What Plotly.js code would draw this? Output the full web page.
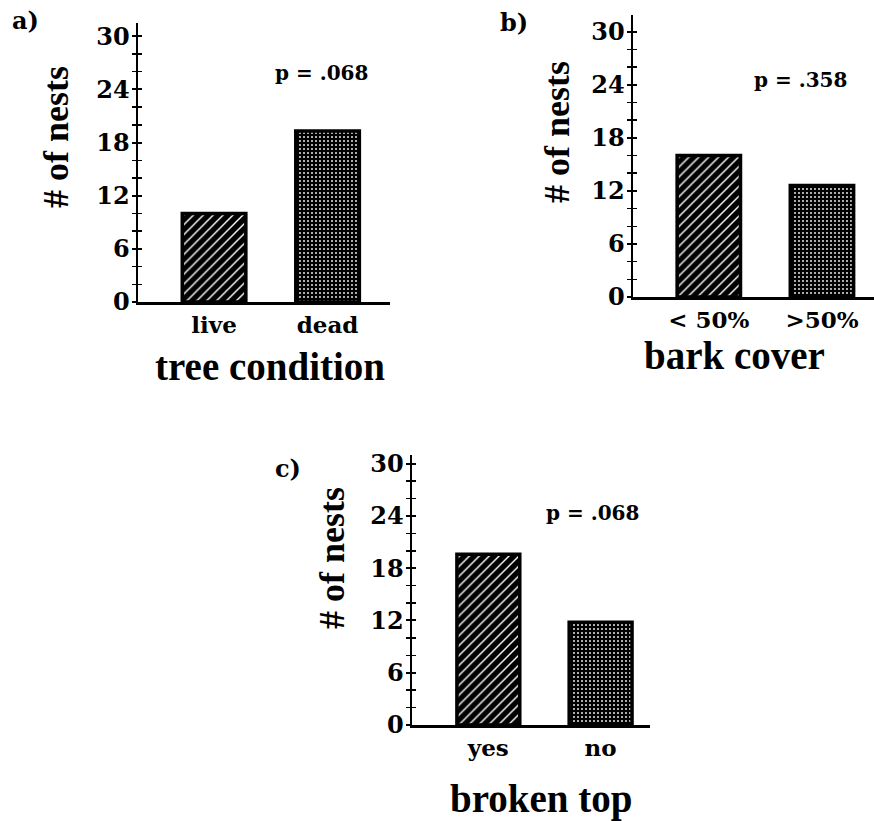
<!DOCTYPE html>
<html>
<head>
<meta charset="utf-8">
<script src="https://cdn.plot.ly/plotly-3.0.1.min.js"></script>
<style>html,body{margin:0;padding:0;background:#fff;}#chart{width:874px;height:821px;}</style>
</head>
<body>
<div id="chart"></div>
<script>
// ---- data ----
const catsA = ['live', 'dead'];
const valsA = [10, 19.3];
const catsB = ['< 50%', '>50%'];
const valsB = [16, 12.6];
const catsC = ['yes', 'no'];
const valsC = [19.6, 11.8];
const patterns = ['/', '.'];
const pValues = ['p = .068', 'p = .358', 'p = .068'];
const panelLabels = ['a)', 'b)', 'c)'];
const xTitles = ['tree condition', 'bark cover', 'broken top'];
const yTitle = '# of nests';
const yTicks = [0, 6, 12, 18, 24, 30];

const W = 874, H = 821;
const px = v => v / W;
const py = v => 1 - v / H;

function barTrace(cats, vals, xa, ya) {
  return {
    type: 'bar', x: cats, y: vals, xaxis: xa, yaxis: ya, width: 0.56,
    hoverinfo: 'skip',
    marker: {
      color: 'black',
      line: {color: 'black', width: 3.5},
      pattern: {
        shape: patterns,
        fillmode: 'replace',
        bgcolor: 'black',
        fgcolor: 'white',
        size: [7, 4],
        solidity: [0.2, 0.16]
      }
    }
  };
}

const traces = [
  barTrace(catsA, valsA, 'x', 'y'),
  barTrace(catsB, valsB, 'x2', 'y2'),
  barTrace(catsC, valsC, 'x3', 'y3'),
  {type: 'scatter', x: [null], y: [null], xaxis: 'x', yaxis: 'y4', hoverinfo: 'skip', showlegend: false},
  {type: 'scatter', x: [null], y: [null], xaxis: 'x2', yaxis: 'y5', hoverinfo: 'skip', showlegend: false},
  {type: 'scatter', x: [null], y: [null], xaxis: 'x3', yaxis: 'y6', hoverinfo: 'skip', showlegend: false}
];

const tickFontX = {family: 'DejaVu Serif', size: 23, color: 'black', weight: 'bold'};
const tickFontY = {family: 'DejaVu Serif', size: 24, color: 'black', weight: 'bold'};

function xAxis(domain, anchor, range) {
  return {
    domain: domain, anchor: anchor, range: range, type: 'category',
    showline: true, linecolor: 'black', linewidth: 2.5,
    ticks: '', showgrid: false, zeroline: false,
    tickfont: tickFontX, ticklabelstandoff: 1, fixedrange: true
  };
}
function yAxis(domain, anchor, top) {
  return {
    domain: domain, anchor: anchor, range: [0, top],
    tickvals: yTicks, ticktext: yTicks.map(String),
    ticks: 'outside', ticklen: 4, tickwidth: 2, tickcolor: 'black',
    minor: {dtick: 2, tick0: 0, ticks: 'outside', ticklen: 4, tickwidth: 1.5, tickcolor: 'black'},
    showline: true, linecolor: 'black', linewidth: 2.5,
    showgrid: false, zeroline: false, tickfont: tickFontY,
    ticklabelstandoff: -3, fixedrange: true
  };
}
function yOverlay(base, anchor, top) {
  return {
    overlaying: base, anchor: anchor, side: 'left', range: [0, top],
    tickvals: yTicks, ticks: 'inside', ticklen: 4, tickwidth: 2, tickcolor: 'black',
    minor: {dtick: 2, tick0: 0, ticks: 'inside', ticklen: 4, tickwidth: 1.5, tickcolor: 'black'},
    showticklabels: false, showline: false, showgrid: false, zeroline: false, fixedrange: true
  };
}

const topA = 31.5, topB = 31.9, topC = 31;

const annFont = (size, fam) => ({family: fam, size: size, color: 'black', weight: 'bold'});
const annotations = [];
function ann(text, x, y, font, angle) {
  annotations.push({text: text, x: px(x), y: py(y), xref: 'paper', yref: 'paper',
    xanchor: 'center', yanchor: 'middle', showarrow: false, font: font, textangle: angle || 0});
}
// panel labels
ann(panelLabels[0], 25, 20, annFont(24, 'DejaVu Serif'));
ann(panelLabels[1], 514, 22, annFont(24, 'DejaVu Serif'));
ann(panelLabels[2], 288, 468, annFont(24, 'DejaVu Serif'));
// p values
ann(pValues[0], 321, 73, annFont(20, 'DejaVu Serif'));
ann(pValues[1], 800, 80, annFont(20, 'DejaVu Serif'));
ann(pValues[2], 592, 513, annFont(20, 'DejaVu Serif'));
// y titles
ann(yTitle, 56, 137, annFont(36, 'Liberation Serif'), -90);
ann(yTitle, 557, 132, annFont(36, 'Liberation Serif'), -90);
ann(yTitle, 332, 558, annFont(36, 'Liberation Serif'), -90);
// x titles
ann(xTitles[0], 270, 366, annFont(39, 'Liberation Serif'));
ann(xTitles[1], 734, 355, annFont(39, 'Liberation Serif'));
ann(xTitles[2], 541, 799, annFont(39, 'Liberation Serif'));

const layout = {
  width: W, height: H,
  margin: {l: 0, r: 0, t: 0, b: 0, pad: 0},
  paper_bgcolor: 'white', plot_bgcolor: 'rgba(0,0,0,0)',
  showlegend: false, bargap: 0.4,
  xaxis: xAxis([px(138), px(390)], 'y', [-0.67, 1.55]),
  yaxis: yAxis([py(302), py(23)], 'x', topA),
  xaxis2: xAxis([px(633), 1], 'y2', [-0.67, 1.46]),
  yaxis2: yAxis([py(297), py(15)], 'x2', topB),
  xaxis3: xAxis([px(412), px(650)], 'y3', [-0.68, 1.44]),
  yaxis3: yAxis([py(725), py(455)], 'x3', topC),
  yaxis4: yOverlay('y', 'x', topA),
  yaxis5: yOverlay('y2', 'x2', topB),
  yaxis6: yOverlay('y3', 'x3', topC),
  annotations: annotations
};

Plotly.newPlot('chart', traces, layout, {staticPlot: true, displayModeBar: false});
</script>
</body>
</html>
